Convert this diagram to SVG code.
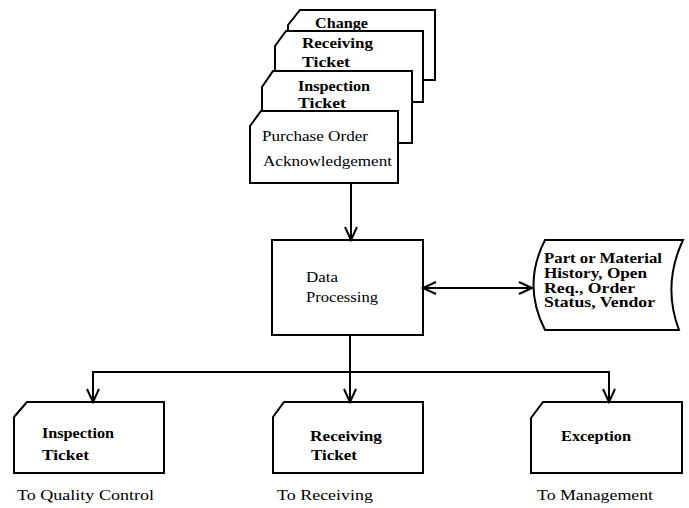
<svg xmlns="http://www.w3.org/2000/svg" width="689" height="508" viewBox="0 0 689 508">
<defs>
<marker id="arr" markerUnits="userSpaceOnUse" viewBox="-14 -8 16 16" refX="0" refY="0" markerWidth="16" markerHeight="16" orient="auto-start-reverse">
<path d="M-13,-6 L0,0 L-13,6" fill="none" stroke="#000" stroke-width="2"/>
</marker>
</defs>
<style>
.shape{fill:#fff;stroke:#000;stroke-width:2;stroke-linejoin:miter}
.conn{fill:none;stroke:#000;stroke-width:2}
text{font-family:"Liberation Serif","Times New Roman",serif;font-size:15px;fill:#000}
.b{font-weight:bold}
.s{font-size:14px}
</style>
<rect width="689" height="508" fill="#fff"/>
<g id="stack">
<g id="card-change">
<polygon class="shape" points="288,25 300,10 435,10 435,80 288,80"/>
<text class="b" x="315" y="28" textLength="53" lengthAdjust="spacingAndGlyphs">Change</text>
</g>
<g id="card-receiving">
<polygon class="shape" points="275,46 286,31 423,31 423,102 275,102"/>
<text class="b" x="302" y="48" textLength="71" lengthAdjust="spacingAndGlyphs">Receiving</text>
<text class="b" x="302" y="67" textLength="48" lengthAdjust="spacingAndGlyphs">Ticket</text>
</g>
<g id="card-inspection">
<polygon class="shape" points="262,87 273,71 412,71 412,143 262,143"/>
<text class="b" x="298" y="91" textLength="72" lengthAdjust="spacingAndGlyphs">Inspection</text>
<text class="b" x="298" y="108" textLength="48" lengthAdjust="spacingAndGlyphs">Ticket</text>
</g>
<g id="card-po">
<polygon class="shape" points="250,126 261,111 398,111 398,183 250,183"/>
<text x="262" y="141" textLength="106" lengthAdjust="spacingAndGlyphs">Purchase Order</text>
<text x="263" y="166" textLength="129" lengthAdjust="spacingAndGlyphs">Acknowledgement</text>
</g>
</g>
<g id="data-processing">
<rect class="shape" x="272" y="240" width="151" height="95"/>
<text x="306" y="282" textLength="32" lengthAdjust="spacingAndGlyphs">Data</text>
<text x="306" y="302" textLength="72" lengthAdjust="spacingAndGlyphs">Processing</text>
</g>
<g id="storage">
<path class="shape" d="M545,240 L683,240 Q662,285 679,330 L545,330 Q522,285 545,240 Z"/>
<text class="b s" x="544" y="263" textLength="118" lengthAdjust="spacingAndGlyphs">Part or Material</text>
<text class="b s" x="544" y="278" textLength="103" lengthAdjust="spacingAndGlyphs">History,  Open</text>
<text class="b s" x="544" y="293" textLength="91" lengthAdjust="spacingAndGlyphs">Req.,  Order</text>
<text class="b s" x="544" y="307" textLength="111" lengthAdjust="spacingAndGlyphs">Status,  Vendor</text>
</g>
<g id="out-inspection">
<polygon class="shape" points="14,417 27,402 164,402 164,473 14,473"/>
<text class="b" x="42" y="438" textLength="72" lengthAdjust="spacingAndGlyphs">Inspection</text>
<text class="b" x="42" y="460" textLength="47" lengthAdjust="spacingAndGlyphs">Ticket</text>
<text x="17" y="500" textLength="137" lengthAdjust="spacingAndGlyphs">To Quality Control</text>
</g>
<g id="out-receiving">
<polygon class="shape" points="273,417 284,402 423,402 423,473 273,473"/>
<text class="b" x="310" y="441" textLength="72" lengthAdjust="spacingAndGlyphs">Receiving</text>
<text class="b" x="311" y="460" textLength="46" lengthAdjust="spacingAndGlyphs">Ticket</text>
<text x="277" y="500" textLength="96" lengthAdjust="spacingAndGlyphs">To Receiving</text>
</g>
<g id="out-exception">
<polygon class="shape" points="531,418 543,402 682,402 682,473 531,473"/>
<text class="b" x="561" y="441" textLength="70" lengthAdjust="spacingAndGlyphs">Exception</text>
<text x="537" y="500" textLength="116" lengthAdjust="spacingAndGlyphs">To Management</text>
</g>
<g id="connectors">
<line class="conn" x1="351" y1="183" x2="351" y2="240" marker-end="url(#arr)"/>
<line class="conn" x1="423" y1="288" x2="532" y2="288" marker-start="url(#arr)" marker-end="url(#arr)"/>
<line class="conn" x1="350" y1="335" x2="350" y2="402" marker-end="url(#arr)"/>
<line class="conn" x1="93" y1="372" x2="609" y2="372"/>
<line class="conn" x1="93" y1="371" x2="93" y2="402" marker-end="url(#arr)"/>
<line class="conn" x1="609" y1="371" x2="609" y2="402" marker-end="url(#arr)"/>
</g>
</svg>
